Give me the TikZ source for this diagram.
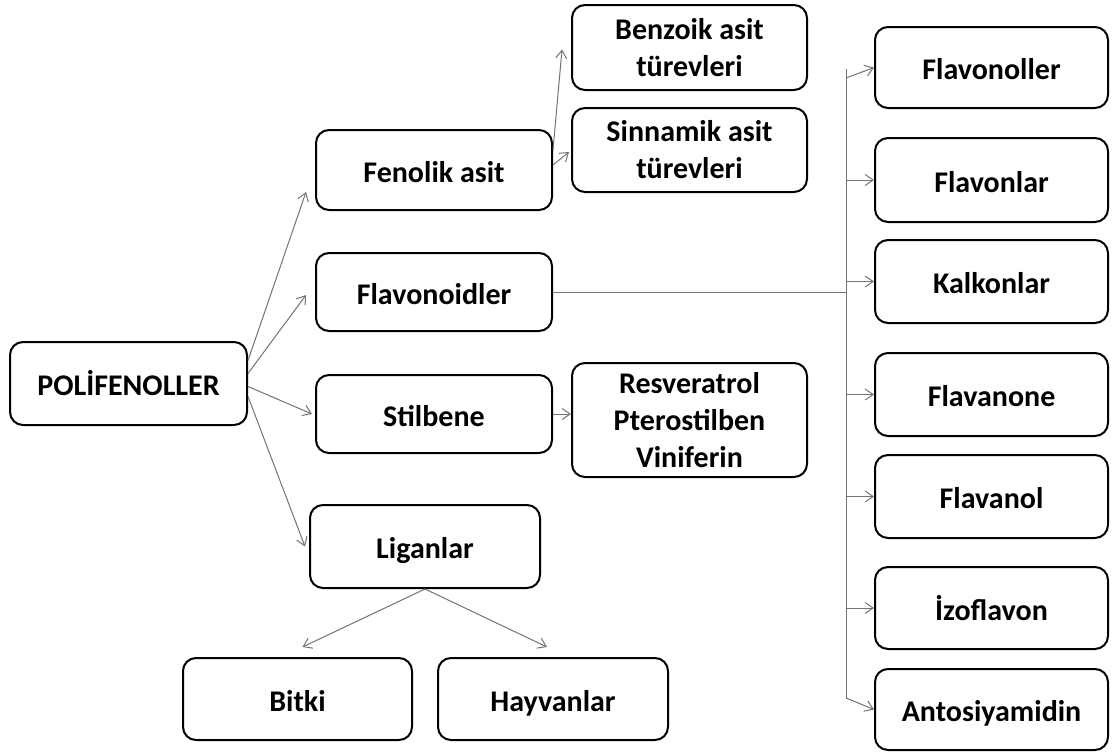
\documentclass[tikz,border=0pt]{standalone}
\usepackage{fontspec}
\setmainfont{Carlito}
\usetikzlibrary{arrows.meta,calc}
\begin{document}
\begin{tikzpicture}[x=1pt,y=-1pt,
  box/.style={draw=black,line width=2pt,rounded corners=13pt,align=center,inner sep=0pt,
    font=\fontsize{30}{37}\selectfont\bfseries,minimum height=82pt},
  one/.style={text height=26pt,text depth=2pt},
  arr/.style={draw=black!55,line width=1pt,-{Straight Barb[length=8pt,width=11pt]}},
  ln/.style={draw=black!55,line width=1pt}]
\useasboundingbox (0,0) rectangle (1112,753);
% left / middle
\node[box,one,minimum width=237pt,minimum height=83pt] (poly) at (128.5,383.5) {POLİFENOLLER};
\node[box,one,minimum width=236pt,minimum height=80pt] (fen) at (434,170) {Fenolik asit};
\node[box,one,minimum width=236pt,minimum height=78pt] (flv) at (434,292) {Flavonoidler};
\node[box,one,minimum width=236pt,minimum height=78pt] (stil) at (434,414) {Stilbene};
\node[box,one,minimum width=230pt,minimum height=83pt] (lig) at (425,546.5) {Liganlar};
\node[box,minimum width=235pt,minimum height=85pt] (benz) at (689.5,47.5) {Benzoik asit\\türevleri};
\node[box,minimum width=235pt,minimum height=84pt] (sinn) at (689.5,150) {Sinnamik asit\\türevleri};
\node[box,minimum width=235pt,minimum height=114pt] (resv) at (689.5,420) {Resveratrol\\Pterostilben\\Viniferin};
\node[box,one,minimum width=229pt] (bitki) at (297.5,699) {Bitki};
\node[box,one,minimum width=230pt] (hayv) at (553,699) {Hayvanlar};
% right column
\node[box,one,minimum width=233pt,minimum height=81pt] (f1) at (991.5,67.5) {Flavonoller};
\node[box,one,minimum width=233pt,minimum height=84pt] (f2) at (991.5,180) {Flavonlar};
\node[box,one,minimum width=233pt,minimum height=83pt] (f3) at (991.5,281.5) {Kalkonlar};
\node[box,one,minimum width=233pt,minimum height=83pt] (f4) at (991.5,394.5) {Flavanone};
\node[box,one,minimum width=233pt,minimum height=83pt] (f5) at (991.5,496.5) {Flavanol};
\node[box,one,minimum width=233pt,minimum height=82pt] (f6) at (991.5,608) {İzoflavon};
\node[box,one,minimum width=233pt,minimum height=81pt] (f7) at (991.5,709.5) {Antosiyamidin};
% connectors from POLIFENOLLER
\draw[arr] ([yshift=23pt]poly.east) -- ([xshift=-9pt,yshift=-22pt]fen.west);
\draw[arr] ([yshift=10pt]poly.east) -- ([xshift=-9pt,yshift=-3pt]flv.west);
\draw[arr] ([yshift=-3pt]poly.east) -- ([xshift=-3pt,yshift=0pt]stil.west);
\draw[arr] ([yshift=-13pt]poly.east) -- ([xshift=-4pt,yshift=0pt]lig.west);
% Fenolik asit
\draw[arr] ([yshift=20pt]fen.east) -- ([xshift=-9pt,yshift=-2pt]benz.west);
\draw[arr] ([yshift=5pt]fen.east) -- ([xshift=-2pt,yshift=-2pt]sinn.west);
% Stilbene
\draw[arr] (stil.east) -- (stil.east -| resv.west);
% Liganlar
\draw[arr] (lig.south) -- ([xshift=5pt,yshift=10pt]bitki.north);
\draw[arr] (lig.south) -- ([xshift=-6pt,yshift=10pt]hayv.north);
% Flavonoid bus
\coordinate (btop) at (846,69);
\coordinate (bbot) at (846,698);
\draw[ln] (flv.east) -- (flv.east -| btop);
\draw[ln] (btop) -- (bbot);
\draw[arr] ($(btop)+(0,9)$) -- (f1.west);
\foreach \n in {f2,f3,f4,f5,f6} \draw[arr] (\n.west -| btop) -- (\n.west);
\draw[arr] (bbot) -- (f7.west);
\end{tikzpicture}
\end{document}
